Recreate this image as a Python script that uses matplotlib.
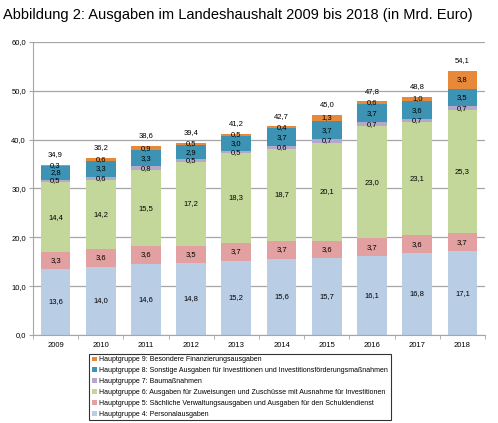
import numpy as np
import matplotlib.pyplot as plt

plt.rcParams['font.family'] = ['Liberation Sans', 'DejaVu Sans']

years = ['2009', '2010', '2011', '2012', '2013', '2014', '2015', '2016', '2017', '2018']
hg4 = [13.6, 14.0, 14.6, 14.8, 15.2, 15.6, 15.7, 16.1, 16.8, 17.1]
hg5 = [3.3, 3.6, 3.6, 3.5, 3.7, 3.7, 3.6, 3.7, 3.6, 3.7]
hg6 = [14.4, 14.2, 15.5, 17.2, 18.3, 18.7, 20.1, 23.0, 23.1, 25.3]
hg7 = [0.5, 0.6, 0.8, 0.5, 0.5, 0.6, 0.7, 0.7, 0.7, 0.7]
hg8 = [2.8, 3.3, 3.3, 2.9, 3.0, 3.7, 3.7, 3.7, 3.6, 3.5]
hg9 = [0.3, 0.6, 0.9, 0.5, 0.5, 0.4, 1.3, 0.6, 1.0, 3.8]
totals = [34.9, 36.2, 38.6, 39.4, 41.2, 42.7, 45.0, 47.8, 48.8, 54.1]

labels = [
    'Hauptgruppe 4: Personalausgaben',
    'Hauptgruppe 5: Sächliche Verwaltungsausgaben und Ausgaben für den Schuldendienst',
    'Hauptgruppe 6: Ausgaben für Zuweisungen und Zuschüsse mit Ausnahme für Investitionen',
    'Hauptgruppe 7: Baumaßnahmen',
    'Hauptgruppe 8: Sonstige Ausgaben für Investitionen und Investitionsförderungsmaßnahmen',
    'Hauptgruppe 9: Besondere Finanzierungsausgaben',
]
colors = ['#b9cde5', '#e2a0a0', '#c4d79b', '#b3a8cc', '#3d93b3', '#e8893a']
series = [hg4, hg5, hg6, hg7, hg8, hg9]

fig = plt.figure(figsize=(4.98, 4.23), dpi=100)
ax = fig.add_axes([0.066, 0.208, 0.908, 0.693])

x = np.arange(len(years))
bottom = np.zeros(len(years))
for vals, col, lab in zip(series, colors, labels):
    ax.bar(x, vals, 0.66, bottom=bottom, color=col, label=lab, zorder=2)
    for xi, v, b0 in zip(x, vals, bottom):
        ax.text(xi, b0 + v / 2, f'{v:.1f}'.replace('.', ','), ha='center', va='center',
                fontsize=5.5, zorder=3)
    bottom += np.array(vals)

# Summen über den Säulen
for xi, t, b0 in zip(x, totals, bottom):
    ax.text(xi, b0 + 1.4, f'{t:.1f}'.replace('.', ','), ha='center', va='bottom', fontsize=5.5)

ax.set_ylim(0, 60)
ax.set_xlim(-0.5, len(years) - 0.5)
ax.set_yticks(np.arange(0, 61, 10))
ax.set_yticklabels([f'{v:.1f}'.replace('.', ',') for v in np.arange(0, 61, 10)], fontsize=5.5)
ax.yaxis.grid(True, color='#a6a6a6', linewidth=0.9, zorder=0)
ax.set_xticks(x)
ax.set_xticklabels(years, fontsize=5.5)
ax.set_xticks(np.arange(-0.5, len(years), 1), minor=True)
ax.tick_params(axis='x', which='major', length=0, pad=5)
ax.tick_params(axis='x', which='minor', length=3, color='#a6a6a6')
ax.tick_params(axis='y', length=3, color='#a6a6a6', pad=2)
for s in ['top', 'right']:
    ax.spines[s].set_visible(False)
ax.spines['left'].set_color('#a6a6a6')
ax.spines['bottom'].set_color('#a6a6a6')

h, l = ax.get_legend_handles_labels()
leg = fig.legend(h[::-1], l[::-1], loc='upper left', bbox_to_anchor=(0.172, 0.172),
                 fontsize=5, frameon=True, fancybox=False, handlelength=0.7, handleheight=0.7,
                 handletextpad=0.3, labelspacing=0.55, borderpad=0.4, edgecolor='black')
leg.get_frame().set_linewidth(0.8)

fig.text(0.006, 0.965, 'Abbildung 2: Ausgaben im Landeshaushalt 2009 bis 2018 (in Mrd. Euro)',
         fontsize=10.5, ha='left', va='center')

fig.savefig('out.png', dpi=100)
